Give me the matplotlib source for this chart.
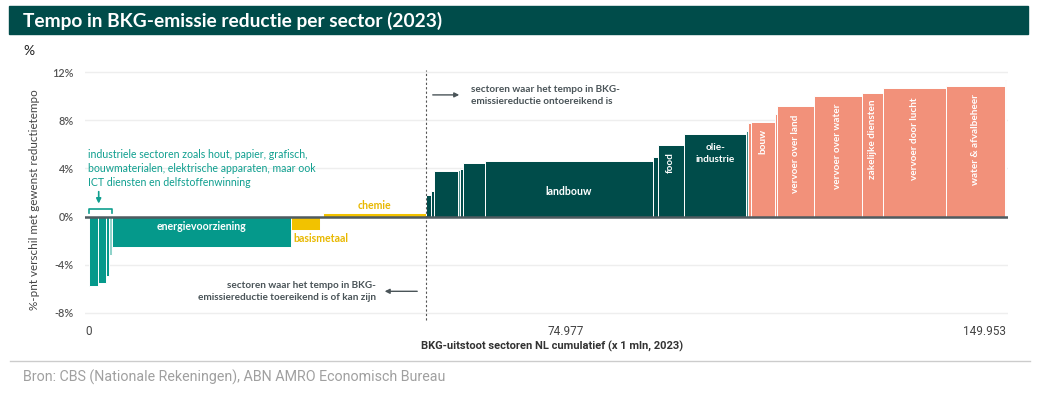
import numpy as np
import matplotlib.pyplot as plt
from matplotlib.patches import Rectangle

# BKG-uitstoot per sector (x 1 mln) en %-pnt verschil met gewenst reductietempo
uitstoot = [1.44, 1.29, 0.59, 0.47, 29.24, 4.74, 0.54, 16.79,
            0.90, 0.44, 3.84, 0.41, 0.43, 3.58, 27.50, 0.80, 4.27, 10.25,
            0.28, 0.51, 3.83, 0.31, 6.15, 7.74, 3.48, 10.32, 9.58, 0.25]
verschil = [-5.78, -5.53, -4.95, -3.20, -2.55, -1.08, 0.0, 0.30,
            1.83, 2.16, 3.82, 3.88, 3.96, 4.45, 4.65, 4.92, 5.95, 6.85,
            7.13, 7.74, 7.85, 8.50, 9.15, 9.99, 10.29, 10.65, 10.85, 11.30]
groep = (['teal'] * 3 + ['teal_l'] + ['teal'] + ['geel'] * 3
         + ['groen'] * 3 + ['groen_l'] + ['groen'] * 6 + ['groen_l2'] + ['zalm'] * 9)

# labels in de balken: (index, tekst, hoogte, rotatie)
balk_labels = [
    (16, 'food', 4.48, 90),
    (17, 'olie-\nindustrie', 5.25, 0),
    (20, 'bouw', 6.22, 90),
    (22, 'vervoer over land', 5.23, 90),
    (23, 'vervoer over water', 5.81, 90),
    (24, 'zakelijke diensten', 6.39, 90),
    (25, 'vervoer door lucht', 6.47, 90),
    (26, 'water & afvalbeheer', 6.39, 90),
]
xticks = [0, 74.977, 149.953]
xtick_labels = ['0', '74.977', '149.953']
yticks = [-8, -4, 0, 4, 8, 12]

kleuren = {'teal': '#05998b', 'teal_l': '#8fd3ca', 'geel': '#f2c200',
           'groen': '#004c4a', 'groen_l': '#4f8f8a', 'groen_l2': '#3f8a84',
           'zalm': '#f2917a'}
donker = '#4a5458'
teal = '#0f9f8f'
geel = '#e8b800'

plt.rcParams['font.family'] = ['Lato', 'DejaVu Sans']

fig = plt.figure(figsize=(10.37, 3.95), dpi=100)
W, H = 1037, 395

# titelbalk
fig.patches.append(Rectangle((9 / W, 1 - 34 / H), 1019 / W, 28 / H,
                             transform=fig.transFigure, color='#004c4a', zorder=0))
fig.text(23 / W, 1 - 20.5 / H, 'Tempo in BKG-emissie reductie per sector (2023)',
         color='white', fontsize=13.8, fontweight='bold', va='center')
fig.text(23 / W, 1 - 51 / H, '%', fontsize=10, color='#222222', va='center')

ax = fig.add_axes([85 / W, 0.2015, 922.5 / W, 0.6223])

links = np.concatenate([[0], np.cumsum(uitstoot)[:-1]])
kleur = [kleuren[g] for g in groep]
ax.bar(links, verschil, width=uitstoot, align='edge', color=kleur,
       edgecolor='white', linewidth=0.7, zorder=2)

ax.set_xlim(-0.65, 150.2)
ax.set_ylim(-8.2, 12.2)
ax.axhline(0, color='#4f5b60', lw=1.8, zorder=3)
grens = links[8]
ax.axvline(grens, color='#555555', lw=0.8, ls=(0, (2, 2)), zorder=4, ymax=1, ymin=-0.02, clip_on=False)

ax.set_yticks(yticks)
ax.set_yticklabels([f'{t}%' for t in yticks])
ax.yaxis.grid(True, color='#eeeeee', lw=1)
ax.set_axisbelow(True)
ax.tick_params(axis='y', length=0, pad=8, labelsize=7.8, labelcolor='#555555')
for lbl in ax.get_yticklabels():
    lbl.set_fontweight('semibold')
ax.set_xticks(xticks)
ax.set_xticklabels(xtick_labels, family='Roboto', fontsize=8.5, color='#444444')
ax.tick_params(axis='x', length=0, pad=7)
for lbl, ha in zip(ax.get_xticklabels(), ['center', 'left', 'right']):
    lbl.set_ha(ha)
for s in ax.spines.values():
    s.set_visible(False)

fig.text(35 / W, 1 - 200 / H, '%-pnt verschil met gewenst reductietempo',
         rotation=90, ha='center', va='center', fontsize=8.4, color='#444444')
fig.text(552 / W, 1 - 346 / H, 'BKG-uitstoot sectoren NL cumulatief (x 1 mln, 2023)',
         ha='center', va='center', fontsize=8, family='Roboto', fontweight='bold',
         color='#333333')

# labels in de balken
midden = links + np.array(uitstoot) / 2
for i, tekst, y, rot in balk_labels:
    ax.text(midden[i], y, tekst, rotation=rot, ha='center', va='center',
            color='white', fontsize=7.2, fontweight='bold', linespacing=1.5, zorder=5)
ax.text(midden[4], -0.8, 'energievoorziening', ha='center', va='center',
        color='white', fontsize=7.6, fontweight='bold', zorder=5)
ax.text(midden[14], 2.07, 'landbouw', ha='center', va='center',
        color='white', fontsize=7.6, fontweight='bold', zorder=5)
ax.text(links[5] + 0.4, -1.8, 'basismetaal', ha='left', va='center',
        color=geel, fontsize=7.6, fontweight='bold')
ax.text(midden[7], 0.91, 'chemie', ha='center', va='center',
        color=geel, fontsize=7.6, fontweight='bold')

# toelichting kleine industriële sectoren
ax.text(-0.1, 3.98, 'industriele sectoren zoals hout, papier, grafisch,\n'
        'bouwmaterialen, elektrische apparaten, maar ook\n'
        'ICT diensten en delfstoffenwinning',
        ha='left', va='center', color=teal, fontsize=7.6, linespacing=1.3)
ax.annotate('', xy=(1.59, 0.85), xytext=(1.59, 2.3),
            arrowprops=dict(arrowstyle='-|>', color=teal, lw=1.2, mutation_scale=7))
ax.plot([0, 0, links[4], links[4]], [0.3, 0.66, 0.66, 0.3], color=teal, lw=1.2,
        clip_on=False, zorder=4)

# pijlen en teksten rond de grens
ax.annotate('', xy=(61.0, 10.1), xytext=(55.76, 10.1),
            arrowprops=dict(arrowstyle='-|>', color=donker, lw=1, mutation_scale=7))
ax.text(62.47, 10.04, 'sectoren waar het tempo in BKG-\nemissiereductie ontoereikend is',
        ha='left', va='center', color=donker, fontsize=7.2, fontweight='bold', linespacing=1.45)
ax.annotate('', xy=(47.9, -6.2), xytext=(54.13, -6.2),
            arrowprops=dict(arrowstyle='-|>', color=donker, lw=1, mutation_scale=7))
ax.text(46.93, -6.22, 'sectoren waar het tempo in BKG-\nemissiereductie toereikend is of kan zijn',
        ha='right', va='center', color=donker, fontsize=7.2, fontweight='bold', linespacing=1.45)

# bronvermelding
fig.add_artist(plt.Line2D([10 / W, 1030 / W], [1 - 361 / H, 1 - 361 / H],
                          color='#cccccc', lw=1))
fig.text(23 / W, 1 - 377 / H, 'Bron: CBS (Nationale Rekeningen), ABN AMRO Economisch Bureau',
         family='Roboto', fontsize=10.3, color='#a0a0a0', va='center')

plt.savefig('out.png', dpi=100)
